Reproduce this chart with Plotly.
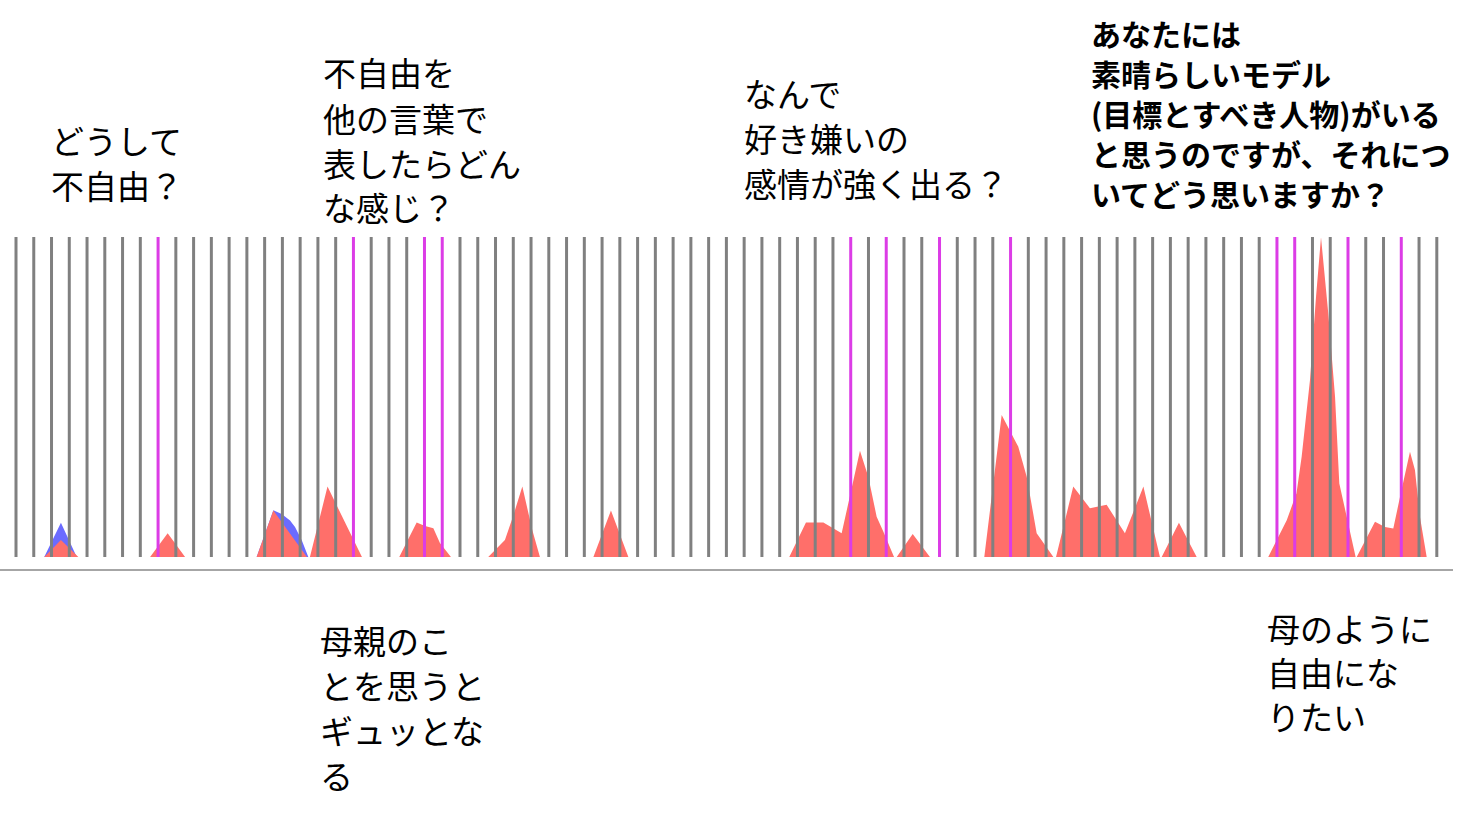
import plotly.graph_objects as go

# ---- data ----
# vertical marker lines (index positions) and which ones are highlighted
line_index = list(range(81))
magenta_index = [8, 19, 23, 24, 47, 49, 52, 56, 71, 72, 75, 78]

# red series (position in line-index units, value 0-100)
red_x = [1.59, 2.53, 3.51,
         7.55, 8.54, 9.52,
         13.55, 14.49, 16.38,
         16.55, 17.54, 19.48,
         21.58, 22.56, 23.03, 23.50, 23.87, 24.49,
         26.59, 27.53, 27.98, 28.51, 29.07, 29.50,
         32.51, 33.50, 34.48,
         43.54, 44.48, 45.46, 46.49, 47.52, 47.99, 48.46, 48.84, 49.44,
         49.59, 50.49, 51.46,
         54.52, 55.50, 56.43, 56.91, 57.47, 58.41,
         58.56, 59.53, 60.47, 61.41, 62.44, 63.48, 64.41,
         64.51, 65.48, 66.48,
         70.51, 71.55, 72.10, 72.39, 72.86, 73.20, 73.48, 73.89, 74.27, 74.51, 75.01, 75.43,
         75.49, 76.52, 77.08, 77.55, 77.93, 78.49, 78.77, 79.05, 79.43]
red_y = [0, 5.3, 0,
         0, 7.4, 0,
         0, 14.5, 0,
         0, 22.0, 0,
         0, 10.8, 9.7, 9.0, 4.4, 0,
         0, 5.3, 12.6, 22.0, 8.4, 0,
         0, 14.5, 0,
         0, 10.8, 10.8, 7.4, 33.2, 25.1, 12.6, 7.9, 0,
         0, 7.2, 0,
         0, 44.4, 34.5, 25.1, 7.4, 0,
         0, 22.0, 15.2, 16.3, 7.4, 22.0, 0,
         0, 10.7, 0,
         0, 11.5, 19.9, 31.3, 55.3, 81.3, 99.9, 76.1, 50.1, 23.0, 10.5, 0,
         0, 11.0, 9.4, 8.9, 18.8, 32.9, 27.2, 12.6, 0]

# blue series
blue_x = [1.59, 2.53, 3.42,
          13.55, 14.49, 14.96, 15.43, 15.71, 16.09, 16.46]
blue_y = [0, 10.7, 0,
          0, 14.6, 13.4, 11.4, 9.4, 5.2, 0]

# annotation texts: (lines, left px, line-center px list, size, bold)
questions_top = [
    (["どうして", "不自由？"], 50, [140, 185], 33, False),
    (["不自由を", "他の言葉で", "表したらどん", "な感じ？"], 322, [72, 118, 163, 207], 33, False),
    (["なんで", "好き嫌いの", "感情が強く出る？"], 743, [93, 138, 183], 33, False),
    (["あなたには", "素晴らしいモデル", "(目標とすべき人物)がいる",
      "と思うのですが、それにつ", "いてどう思いますか？"], 1090, [33, 73, 113, 153, 193], 30, True),
]
answers_bottom = [
    (["母親のこ", "とを思うと", "ギュッとな", "る"], 319, [640, 685, 730, 775], 33, False),
    (["母のように", "自由にな", "りたい"], 1266, [628, 672, 716], 33, False),
]

W, H = 1484, 816
X0_PX, STEP_PX = 16.0, 17.76
BASE_PX, PX_PER_UNIT = 557.0, 3.2

fig = go.Figure()

fig.add_trace(go.Scatter(x=blue_x, y=blue_y, mode="lines", fill="tozeroy",
                         fillcolor="#6b6bff", line=dict(width=0, color="#6b6bff"),
                         hoverinfo="skip"))
fig.add_trace(go.Scatter(x=red_x, y=red_y, mode="lines", fill="tozeroy",
                         fillcolor="#ff6f6a", line=dict(width=0, color="#ff6f6a"),
                         hoverinfo="skip"))

gx, gy, mx, my = [], [], [], []
for i in line_index:
    if i in magenta_index:
        mx += [i, i, None]
        my += [0, 100, None]
    else:
        gx += [i, i, None]
        gy += [0, 100, None]
fig.add_trace(go.Scatter(x=gx, y=gy, mode="lines", line=dict(color="#808080", width=3),
                         hoverinfo="skip"))
fig.add_trace(go.Scatter(x=mx, y=my, mode="lines", line=dict(color="#dc3ce6", width=3),
                         hoverinfo="skip"))

# baseline
fig.add_shape(type="line", xref="paper", yref="y", x0=0, x1=1453 / W,
              y0=-(570 - BASE_PX) / PX_PER_UNIT, y1=-(570 - BASE_PX) / PX_PER_UNIT,
              line=dict(color="#a6a6a6", width=2))

for lines, lx, centers, size, bold in questions_top + answers_bottom:
    for text, cy in zip(lines, centers):
        t = f"<b>{text}</b>" if bold else text
        fig.add_annotation(text=t, xref="paper", yref="paper", x=lx / W, y=1 - cy / H,
                           xanchor="left", yanchor="middle", align="left", showarrow=False,
                           borderpad=0,
                           font=dict(family="Noto Sans CJK JP", size=size, color="black"))

xa = -X0_PX / STEP_PX
fig.update_layout(
    width=W, height=H, margin=dict(l=0, r=0, t=0, b=0),
    paper_bgcolor="white", plot_bgcolor="white", showlegend=False,
    xaxis=dict(range=[xa, xa + W / STEP_PX], visible=False, fixedrange=True),
    yaxis=dict(range=[-(H - BASE_PX) / PX_PER_UNIT, BASE_PX / PX_PER_UNIT],
               visible=False, fixedrange=True),
)

fig.write_html("out.html", config={"displayModeBar": False})
